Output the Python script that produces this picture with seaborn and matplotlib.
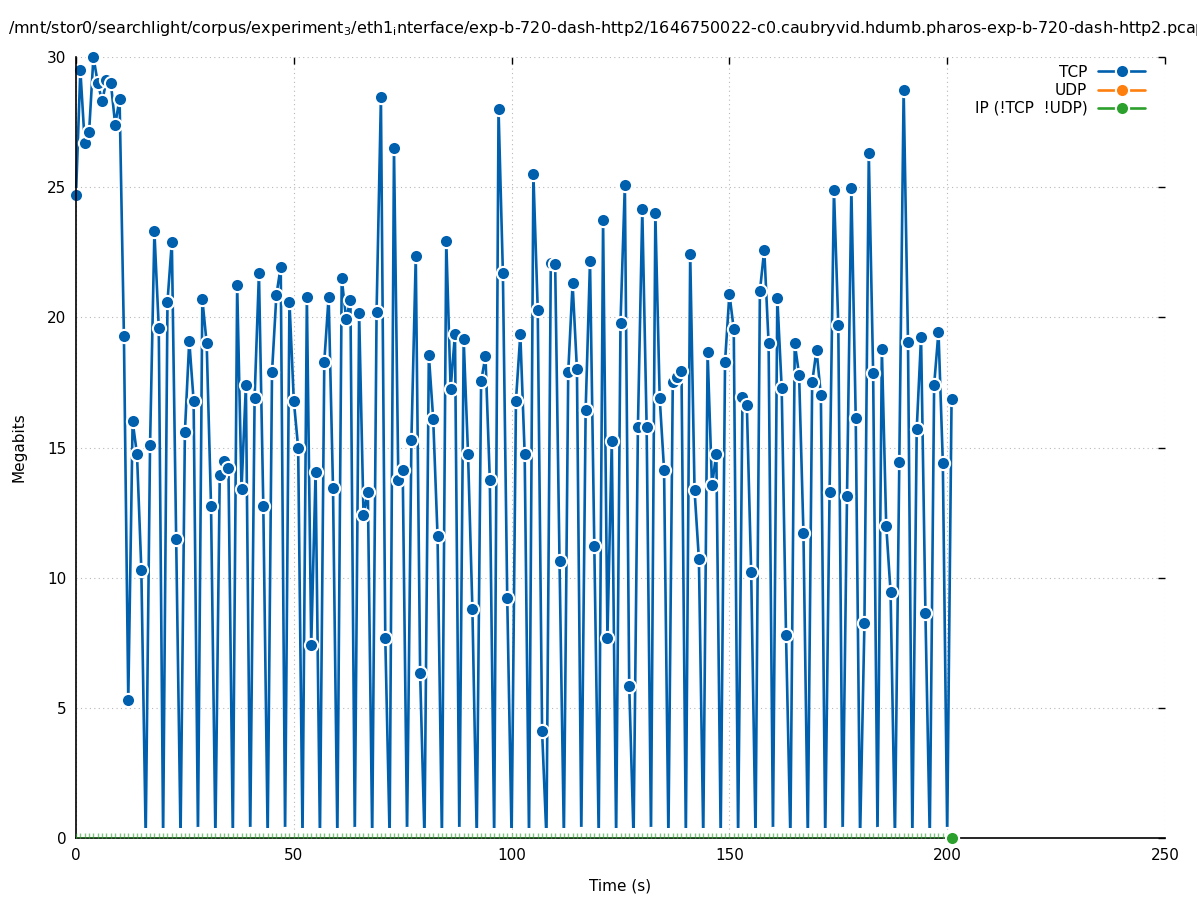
import matplotlib
matplotlib.use("Agg")
import matplotlib.pyplot as plt
from matplotlib.lines import Line2D
from matplotlib.patches import Rectangle
import seaborn as sns
import pandas as pd

# ── Data (Megabits per 1 s bin) ──────────────────────────────────────────────
time_s = list(range(202))

tcp_mbit = [
    24.7, 29.5, 26.7, 27.1, 30.0, 29.0, 28.3, 29.1, 29.0, 27.4, 28.4, 19.3, 5.3, 16.0, 14.75, 10.3,
    0.0, 15.1, 23.3, 19.6,
    0.0, 20.6, 22.9, 11.5,
    0.0, 15.6, 19.1, 16.8,
    0.15, 20.7, 19.0, 12.75,
    0.0, 13.95, 14.5, 14.2,
    0.0, 21.25, 13.4, 17.4,
    0.15, 16.9, 21.7, 12.75,
    0.0, 17.9, 20.85, 21.95,
    0.15, 20.6, 16.8, 15.0,
    0.0, 20.8, 7.4, 14.05,
    0.0, 18.3, 20.8, 13.45,
    0.0, 21.5, 19.95, 20.65,
    0.15, 20.15, 12.4, 13.3,
    0.0, 20.2, 28.45, 7.7,
    0.0, 26.5, 13.75, 14.15,
    0.15, 15.3, 22.35, 6.35,
    0.0, 18.55, 16.1, 11.6,
    0.0, 22.95, 17.25, 19.35,
    0.15, 19.15, 14.75, 8.8,
    0.0, 17.55, 18.5, 13.75,
    0.0, 28.0, 21.7, 9.2,
    0.0, 16.8, 19.35, 14.75,
    0.0, 25.5, 20.3, 4.1,
    0.0, 22.1, 22.05, 10.65,
    0.0, 17.9, 21.3, 18.0,
    0.15, 16.45, 22.15, 11.2,
    0.0, 23.75, 7.7, 15.25,
    0.0, 19.8, 25.1, 5.85,
    0.0, 15.8, 24.15, 15.8,
    0.15, 24.0, 16.9, 14.15,
    0.0, 17.5, 17.7, 17.95,
    0.0, 22.45, 13.35, 10.7,
    0.0, 18.65, 13.55, 14.75,
    0.0, 18.3, 20.9, 19.55,
    0.0, 16.95, 16.65, 10.2,
    0.0, 21.0, 22.6, 19.0,
    0.15, 20.75, 17.3, 7.8,
    0.0, 19.0, 17.8, 11.7,
    0.0, 17.5, 18.75, 17.0,
    0.0, 13.3, 24.9, 19.7,
    0.15, 13.15, 24.95, 16.15,
    0.0, 8.25, 26.3, 17.85,
    0.15, 18.8, 12.0, 9.45,
    0.0, 14.45, 28.75, 19.05,
    0.0, 15.7, 19.25, 8.65,
    0.0, 17.4, 19.45, 14.4,
    0.15, 16.85,
]
ip_mbit = [0.0] * len(time_s)

series_labels = ["TCP", "UDP", "IP (!TCP  !UDP)"]
series_colors = ["#0060ad", "#ff7f0e", "#2ca02c"]

x_ticks = [0, 50, 100, 150, 200, 250]
y_ticks = [0, 5, 10, 15, 20, 25, 30]

title = ("/mnt/stor0/searchlight/corpus/experiment$_3$/eth1$_\\mathrm{i}$nterface/"
         "exp-b-720-dash-http2/1646750022-c0.caubryvid.hdumb.pharos-exp-b-720-dash-http2.pcap")

# ── Style ────────────────────────────────────────────────────────────────────
sns.set_style("white")
plt.rcParams.update({
    "font.family": ["DejaVu Sans"],
    "font.size": 11,
    "text.color": "black",
    "axes.labelcolor": "black",
    "mathtext.fontset": "dejavusans",
    "xtick.direction": "in",
    "ytick.direction": "in",
    "xtick.top": True,
    "ytick.right": True,
})

fig = plt.figure(figsize=(11.97, 9.0), dpi=100)
ax = fig.add_axes([76 / 1197, 1 - 838 / 900, 1089 / 1197, 781 / 900])

df = pd.DataFrame({"time": time_s, "tcp": tcp_mbit, "ip": ip_mbit})

# IP series sits on the x axis
ax.plot(df["time"], df["ip"], color=series_colors[2], lw=1.2, marker="|",
        markersize=7, markeredgewidth=1.0, alpha=0.6, zorder=6)
ax.plot(df["time"].iloc[-1:], df["ip"].iloc[-1:], color=series_colors[2], marker="o",
        markersize=9.5, markeredgecolor="white", markeredgewidth=1.5,
        linestyle="none", clip_on=False, zorder=7)

sns.lineplot(data=df, x="time", y="tcp", ax=ax, color=series_colors[0], lw=1.9,
             marker="o", markersize=9.5, markeredgecolor="white",
             markeredgewidth=1.5, legend=False, zorder=4)

# lines/points are clipped slightly above the x axis
clip_rect = Rectangle((-20, 0.38), 300, 40, transform=ax.transData)
for ln in ax.get_lines()[2:]:
    ln.set_clip_path(clip_rect)

ax.set_xlim(0, 250)
ax.set_ylim(0, 30)
ax.set_xticks(x_ticks)
ax.set_yticks(y_ticks)
ax.tick_params(length=5, width=1, pad=7, labelsize=11, colors="black")
ax.grid(True, color="#b8b8b8", linestyle=(0, (1, 3)), linewidth=0.8)
ax.set_axisbelow(True)

for side in ["top", "right"]:
    ax.spines[side].set_visible(False)
for side in ["left", "bottom"]:
    ax.spines[side].set_color("black")
    ax.spines[side].set_linewidth(1.2)
    ax.spines[side].set_zorder(5)

ax.set_xlabel("Time (s)", fontsize=11, va="center")
ax.set_ylabel("Megabits", fontsize=11, va="center")
ax.xaxis.set_label_coords(0.5, -(886 - 838) / 781)
ax.yaxis.set_label_coords(-(76 - 19) / 1089, 0.5)

# the long pcap path runs past the right edge, as in the original plot
fig.text(8 / 1197, 1 - 29 / 900, title, ha="left", va="center", fontsize=11.5)

# Legend: text right-aligned, sample on the right
handles = [Line2D([0], [0], color=c, lw=1.9, marker="o", markersize=9.5,
                  markeredgecolor="white", markeredgewidth=1.5)
           for c in series_colors]
leg = ax.legend(handles, series_labels, loc="upper right", bbox_to_anchor=(0.982, 0.99),
                frameon=False, markerfirst=False, numpoints=1, handlelength=3.1,
                handletextpad=0.7, labelspacing=0.2, borderaxespad=0, borderpad=0,
                fontsize=11)
for col in leg._legend_handle_box.get_children():
    col.align = "right"

fig.savefig("out.png", dpi=100)
